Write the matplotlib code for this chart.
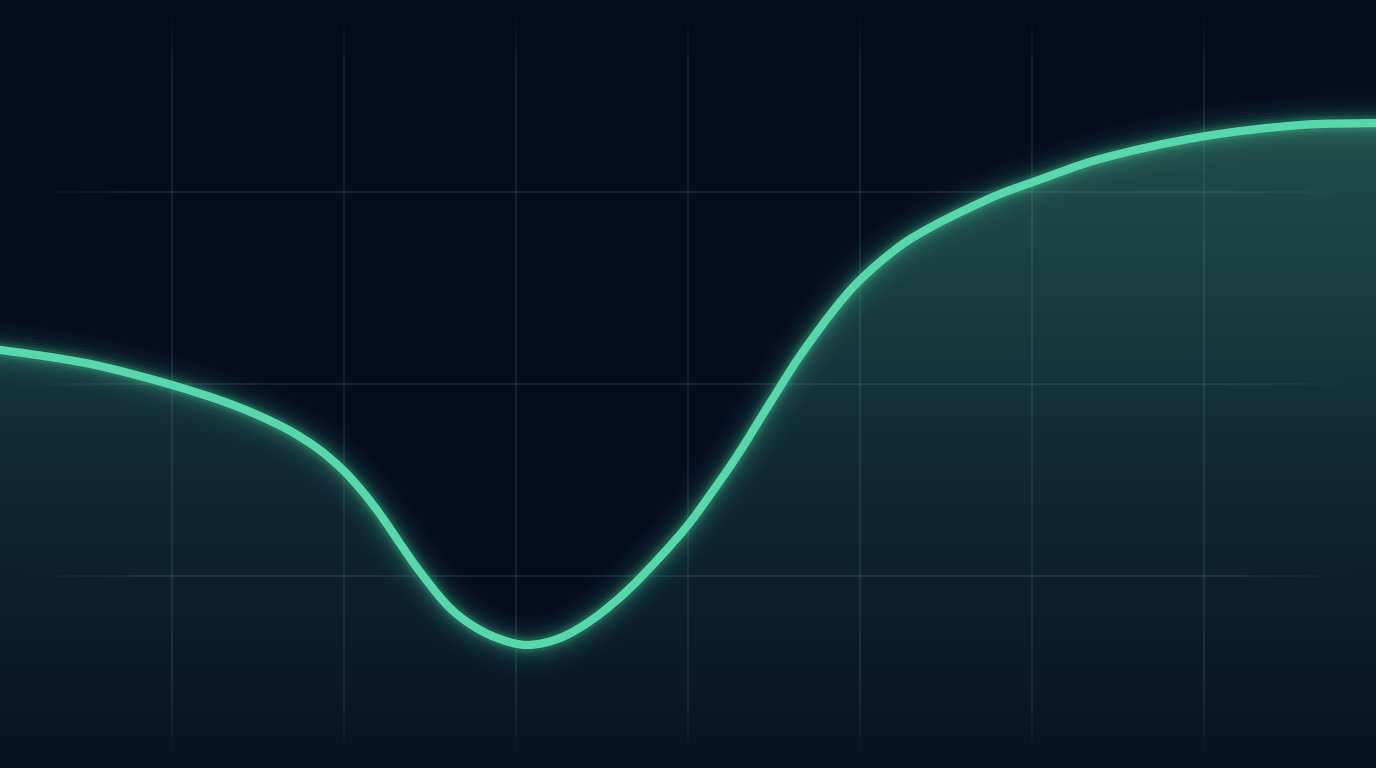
import numpy as np
import matplotlib
matplotlib.use("Agg")
import matplotlib.pyplot as plt
from matplotlib.colors import LinearSegmentedColormap, to_rgba
from matplotlib.path import Path
from matplotlib.patches import PathPatch
from matplotlib.collections import LineCollection

# curve: x in grid columns, y in percent of height
xs = [0.000, 0.291, 0.581, 1.000, 1.355, 1.645, 1.843, 1.994, 2.110, 2.209,
      2.308, 2.430, 2.599, 2.733, 2.890, 3.064, 3.256, 3.448, 3.645, 3.837,
      4.000, 4.128, 4.285, 4.419, 4.535, 4.651, 4.843, 5.000, 5.233, 5.424,
      5.622, 5.814, 6.006, 6.395, 6.977, 7.558, 8.000]
ys = [54.43, 53.52, 52.34, 49.87, 47.27, 44.40, 41.67, 38.80, 35.94, 33.07,
      29.82, 25.91, 21.22, 18.75, 16.93, 16.02, 16.93, 19.40, 23.05, 27.47,
      31.64, 35.55, 40.63, 45.44, 49.61, 53.65, 59.51, 63.54, 67.97, 70.57,
      72.79, 74.74, 76.30, 79.30, 82.16, 83.72, 83.98]
xgrid = [1, 2, 3, 4, 5, 6, 7]
ygrid = [25, 50, 75]

bg = "#050c1e"
line_col = "#55d8aa"
W, H = 13.76, 7.68


def smooth_path(x, y, close=False):
    # Catmull-Rom through the points, written as cubic Bezier segments
    p = np.column_stack([x, y]).astype(float)
    sc = np.array([172.0, 7.68])
    d = np.linalg.norm(np.diff(p * sc, axis=0), axis=1)
    t = np.concatenate([[0], np.cumsum(d)])
    n = len(p)
    tan = np.zeros_like(p)
    for i in range(n):
        a, b = max(i - 1, 0), min(i + 1, n - 1)
        tan[i] = (p[b] - p[a]) / (t[b] - t[a])
    verts = [p[0]]
    codes = [Path.MOVETO]
    for i in range(n - 1):
        h = (t[i + 1] - t[i]) / 3
        verts += [p[i] + tan[i] * h, p[i + 1] - tan[i + 1] * h, p[i + 1]]
        codes += [Path.CURVE4] * 3
    if close:
        verts += [[x[-1], -5], [x[0], -5], p[0]]
        codes += [Path.LINETO, Path.LINETO, Path.CLOSEPOLY]
    return Path(verts, codes)


fig = plt.figure(figsize=(W, H), dpi=100, facecolor=bg)
ax = fig.add_axes([0, 0, 1, 1])
ax.set_facecolor(bg)
ax.set_xlim(0, 8)
ax.set_ylim(0, 100)
ax.axis("off")

# gradient fill under the curve
fill_patch = PathPatch(smooth_path(xs, ys, close=True), facecolor="none",
                       edgecolor="none", transform=ax.transData)
ax.add_patch(fill_patch)
cmap = LinearSegmentedColormap.from_list("fill", ["#081324", "#0f2431", "#1b4144", "#245650"])
grad = np.linspace(0, 1, 256).reshape(-1, 1)
im = ax.imshow(grad, extent=[0, 8, 0, 100], origin="lower", aspect="auto",
               cmap=cmap, zorder=1)
im.set_clip_path(fill_patch)


# grid lines that fade out toward the picture edges
def fade(u):
    e = np.clip(np.minimum(u, 1 - u) / 0.12, 0, 1)
    return e * e * (3 - 2 * e)


gc = to_rgba("#7fb0c0")
seg_u = np.linspace(0, 1, 121)
segs, cols = [], []
for gx in xgrid:
    yy = seg_u * 100
    for k in range(len(seg_u) - 1):
        segs.append([(gx, yy[k]), (gx, yy[k + 1])])
        cols.append((*gc[:3], 0.17 * fade((seg_u[k] + seg_u[k + 1]) / 2)))
for gy in ygrid:
    xx = seg_u * 8
    for k in range(len(seg_u) - 1):
        segs.append([(xx[k], gy), (xx[k + 1], gy)])
        cols.append((*gc[:3], 0.17 * fade((seg_u[k] + seg_u[k + 1]) / 2)))
ax.add_collection(LineCollection(segs, colors=cols, linewidths=1.1, zorder=2))

# glow + line
curve = smooth_path(xs, ys)
for w, a in [(48, 0.012), (40, 0.018), (33, 0.025), (27, 0.035), (22, 0.045),
             (17, 0.065), (13, 0.09), (10, 0.13)]:
    ax.add_patch(PathPatch(curve, facecolor="none", edgecolor=line_col, lw=w,
                           alpha=a, capstyle="round", joinstyle="round", zorder=3))
ax.add_patch(PathPatch(curve, facecolor="none", edgecolor=line_col, lw=6.0,
                       capstyle="round", joinstyle="round", zorder=4))

fig.savefig("out.png", dpi=100, facecolor=bg)
